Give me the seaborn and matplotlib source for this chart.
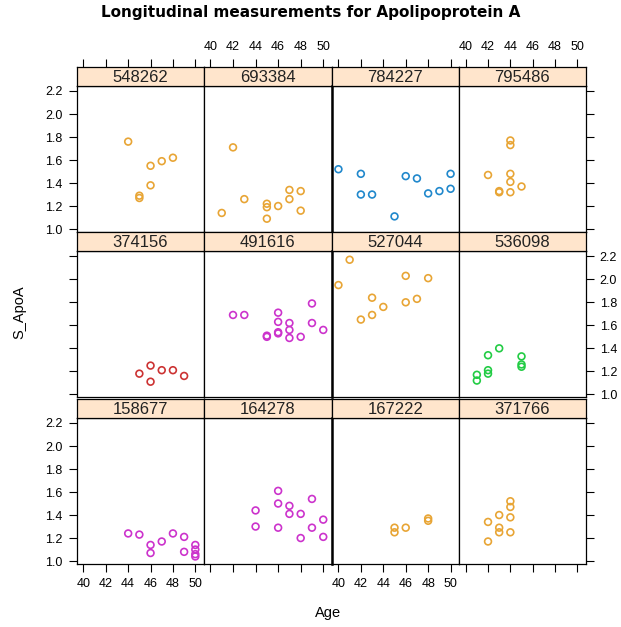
import matplotlib
matplotlib.use("Agg")
import matplotlib.pyplot as plt
import seaborn as sns
import pandas as pd

# ---- data ----
subjects = ["548262", "693384", "784227", "795486",
            "374156", "491616", "527044", "536098",
            "158677", "164278", "167222", "371766"]
groups = ["o", "o", "b", "o",
          "r", "m", "o", "g",
          "m", "m", "o", "o"]

age_548262 = [44, 45, 45, 46, 46, 47, 48]
apo_548262 = [1.76, 1.29, 1.27, 1.55, 1.38, 1.59, 1.62]
age_693384 = [41, 42, 43, 45, 45, 45, 46, 47, 47, 48, 48]
apo_693384 = [1.14, 1.71, 1.26, 1.22, 1.19, 1.09, 1.20, 1.34, 1.26, 1.33, 1.16]
age_784227 = [40, 42, 42, 43, 45, 46, 47, 48, 49, 50, 50]
apo_784227 = [1.52, 1.48, 1.30, 1.30, 1.11, 1.46, 1.44, 1.31, 1.33, 1.48, 1.35]
age_795486 = [42, 43, 43, 44, 44, 44, 44, 44, 45]
apo_795486 = [1.47, 1.32, 1.33, 1.77, 1.73, 1.48, 1.41, 1.32, 1.37]
age_374156 = [45, 46, 46, 47, 48, 49]
apo_374156 = [1.18, 1.25, 1.11, 1.21, 1.21, 1.16]
age_491616 = [42, 43, 45, 45, 46, 46, 46, 46, 47, 47, 47, 48, 49, 49, 50]
apo_491616 = [1.69, 1.69, 1.51, 1.50, 1.71, 1.63, 1.53, 1.54, 1.62, 1.56, 1.49, 1.50, 1.79, 1.62, 1.56]
age_527044 = [40, 41, 42, 43, 43, 44, 46, 46, 47, 48]
apo_527044 = [1.95, 2.17, 1.65, 1.84, 1.69, 1.76, 2.03, 1.80, 1.83, 2.01]
age_536098 = [41, 41, 42, 42, 42, 43, 45, 45, 45]
apo_536098 = [1.17, 1.12, 1.34, 1.21, 1.18, 1.40, 1.33, 1.26, 1.24]
age_158677 = [44, 45, 46, 46, 47, 48, 49, 49, 50, 50, 50, 50]
apo_158677 = [1.24, 1.23, 1.14, 1.07, 1.17, 1.24, 1.21, 1.08, 1.14, 1.10, 1.06, 1.04]
age_164278 = [44, 44, 46, 46, 46, 47, 47, 48, 48, 49, 49, 50, 50]
apo_164278 = [1.44, 1.30, 1.61, 1.50, 1.29, 1.48, 1.41, 1.41, 1.20, 1.54, 1.29, 1.36, 1.21]
age_167222 = [45, 45, 46, 48, 48]
apo_167222 = [1.29, 1.25, 1.29, 1.37, 1.35]
age_371766 = [42, 42, 43, 43, 43, 44, 44, 44, 44]
apo_371766 = [1.34, 1.17, 1.40, 1.29, 1.25, 1.52, 1.47, 1.38, 1.25]

x_ticks = [40, 42, 44, 46, 48, 50]
y_ticks = [1.0, 1.2, 1.4, 1.6, 1.8, 2.0, 2.2]

group_colors = {"o": "#E8A535", "b": "#2088CC", "r": "#CC3333",
                "m": "#CC33CC", "g": "#22CC44"}

ages = {s: globals()["age_" + s] for s in subjects}
apos = {s: globals()["apo_" + s] for s in subjects}

rows = []
for s, g in zip(subjects, groups):
    for a, v in zip(ages[s], apos[s]):
        rows.append({"Subject": s, "Group": g, "Age": a, "S_ApoA": v})
df = pd.DataFrame(rows)

# ---- layout ----
W, H = 621, 627
fig = plt.figure(figsize=(W / 100, H / 100), dpi=100)
plt.rcParams["font.family"] = ["Liberation Sans", "DejaVu Sans"]

col_edges = [76.7, 203.7, 331.7, 459.0, 585.7]
panel_tops = [85.7, 251.0, 417.7]
panel_h = 146.0
strip_h = 19.0
xlim = (39.4, 50.75)
ylim = (0.977, 2.246)
tick_kw = dict(length=6, width=0.8, direction="out", labelsize=9, pad=4)

def fx(px):
    return px / W

def fy(py):
    return 1 - py / H

for i, s in enumerate(subjects):
    r, c = divmod(i, 4)
    x0, x1 = col_edges[c], col_edges[c + 1]
    top = panel_tops[r]
    ax = fig.add_axes([fx(x0), fy(top + panel_h), fx(x1 - x0), panel_h / H])
    sub = df[df["Subject"] == s]
    sns.scatterplot(data=sub, x="Age", y="S_ApoA", ax=ax, marker="o",
                    facecolors="none", edgecolor=group_colors[groups[i]],
                    linewidth=1.2, s=24, legend=False)
    ax.set_xlim(*xlim)
    ax.set_ylim(*ylim)
    ax.set_xlabel("")
    ax.set_ylabel("")
    for sp in ax.spines.values():
        sp.set_linewidth(0.9)
    if c == 2:
        ax.spines["left"].set_linewidth(1.8)
    ax.set_xticks(x_ticks)
    ax.set_yticks(y_ticks)
    ax.tick_params(axis="both", **tick_kw)
    if r == 2:
        ax.tick_params(axis="x", bottom=True, top=False, labelbottom=(c % 2 == 0), labeltop=False)
    else:
        ax.tick_params(axis="x", bottom=False, top=False, labelbottom=False, labeltop=False)
    left_on = c == 0
    right_on = c == 3
    ax.tick_params(axis="y", left=left_on, right=right_on,
                   labelleft=(left_on and r != 1), labelright=(right_on and r == 1))
    ax.set_yticklabels([f"{v:.1f}" for v in y_ticks])

    # strip
    sax = fig.add_axes([fx(x0), fy(top), fx(x1 - x0), strip_h / H])
    sax.set_facecolor("#FFE5CC")
    sax.set_xlim(*xlim)
    sax.set_ylim(0, 1)
    sax.set_yticks([])
    sax.set_xticks(x_ticks)
    for sp in sax.spines.values():
        sp.set_linewidth(0.9)
    if r == 0:
        sax.tick_params(axis="x", **tick_kw)
        sax.tick_params(axis="x", bottom=False, top=True, labelbottom=False,
                        labeltop=(c % 2 == 1))
    else:
        sax.tick_params(axis="x", bottom=False, top=False, labelbottom=False, labeltop=False)
    sax.text(0.5, 0.45, s, transform=sax.transAxes, ha="center", va="center",
             fontsize=12, color="#222222")

fig.text(0.5, fy(12), "Longitudinal measurements for Apolipoprotein A",
         ha="center", va="center", fontsize=11, fontweight="bold",
         family=["DejaVu Sans"])
fig.text(fx(328), fy(613), "Age", ha="center", va="center", fontsize=10.5)
fig.text(fx(19), fy(312), "S_ApoA", ha="center", va="center", fontsize=10.5,
         rotation=90)

fig.savefig("out.png", dpi=100)
